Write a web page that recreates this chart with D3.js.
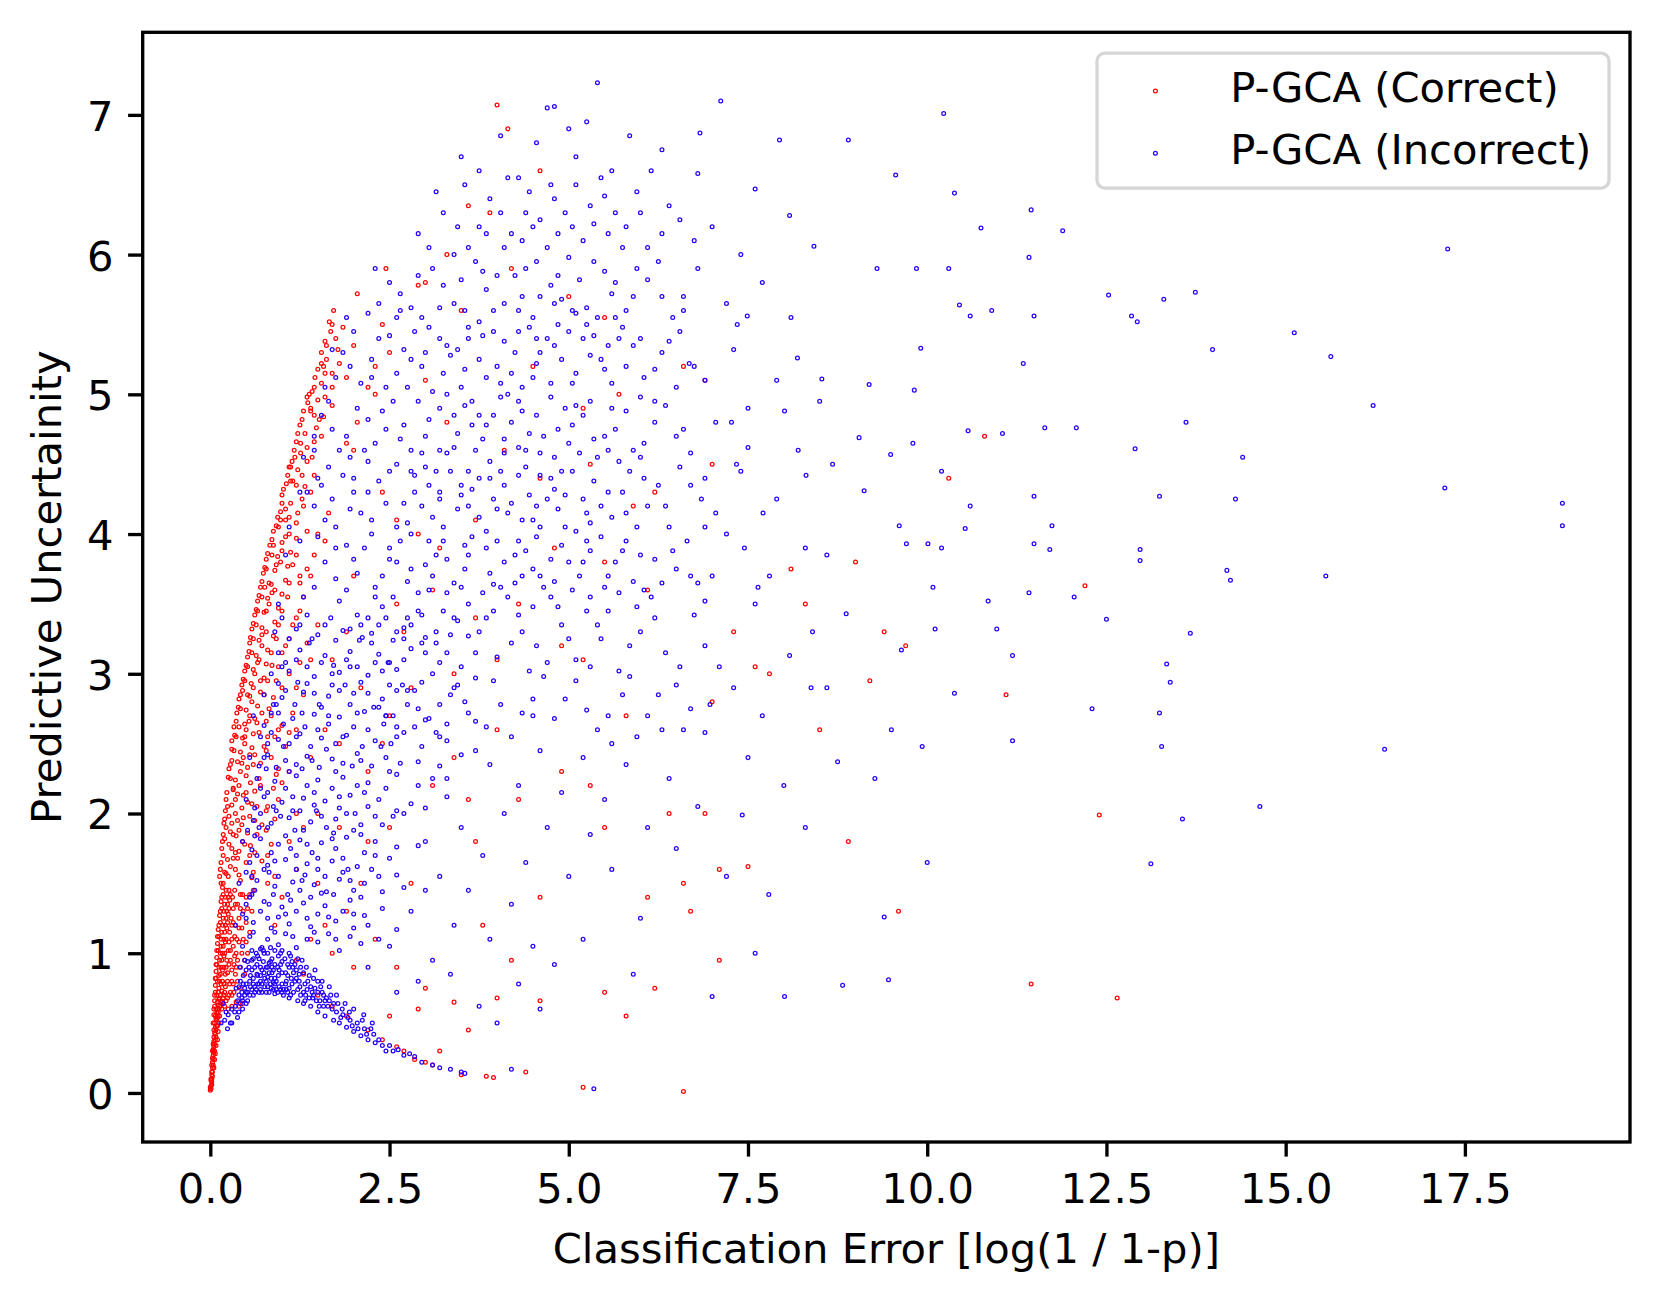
<!DOCTYPE html>
<html>
<head>
<meta charset="utf-8">
<script src="https://cdn.jsdelivr.net/npm/d3@7"></script>
<style>
  body { margin: 0; background: #fff; }
  text { font-family: "DejaVu Sans", sans-serif; fill: #000; }
</style>
</head>
<body>
<svg id="chart"></svg>
<script>
// ---- data ----
const xTicks = [0, 2.5, 5, 7.5, 10, 12.5, 15, 17.5];
const yTicks = [0, 1, 2, 3, 4, 5, 6, 7];
const seriesNames = ['P-GCA (Correct)', 'P-GCA (Incorrect)'];

// correct: thin spike near the origin
const correctSpike = [
  [0.0,0.02],[0.01,0.05],[0.01,0.1],[0.02,0.15],[0.02,0.2],[0.03,0.25],[0.03,0.3],[0.04,0.35],[0.05,0.4],[0.05,0.45],
  [0.06,0.5],[0.07,0.55],[0.08,0.6],[0.1,0.65],[0.09,0.7],[0.12,0.75],[0.1,0.8],[0.14,0.85],[0.12,0.9],[0.16,0.95],
  [0.14,1.0],[0.18,1.05],[0.15,1.1],[0.2,1.15],[0.17,1.2],[0.22,1.25],[0.19,1.3],[0.24,1.35],[0.21,1.4],[0.26,1.45],
  [0.04,0.2],[0.06,0.3],[0.08,0.4],[0.1,0.48],[0.13,0.55],[0.16,0.6],[0.2,0.62],[0.25,0.6],[0.3,0.62],[0.06,0.62],
  [0.07,0.72],[0.08,0.82],[0.09,0.92],[0.11,1.02],[0.12,1.12],[0.14,1.22],[0.16,1.32],[0.18,1.42],[0.2,0.72],[0.24,0.8],
  [0.18,0.68],[0.22,0.9],[0.28,0.95],[0.26,1.08],[0.3,1.2],[0.32,1.32],[0.28,0.72],[0.35,0.85],[0.36,1.0],[0.34,1.12],
  [0.4,1.25],[0.02,0.08],[0.03,0.12],[0.05,0.18],[0.06,0.24],[0.07,0.28],[0.08,0.34],[0.1,0.38],[0.11,0.44],[0.12,0.5],
  [0.01,0.03],[0.02,0.06],[0.03,0.18],[0.04,0.27],[0.05,0.33],[0.07,0.42],[0.09,0.52],[0.11,0.58],[0.13,0.68],[0.15,0.78],
  [0.17,0.88],[0.19,0.98],[0.21,1.08],[0.23,1.18],[0.25,1.28],[0.27,1.38],[0.22,0.66],[0.26,0.7],[0.3,0.8],[0.33,0.92],
  [0.0,0.04],[0.01,0.09],[0.02,0.13],[0.03,0.22],[0.04,0.31],[0.05,0.37],[0.06,0.43],[0.07,0.47],[0.08,0.53],[0.09,0.57],
  [0.1,0.6],[0.11,0.63],[0.12,0.67],[0.14,0.7],[0.16,0.73],[0.05,0.56],[0.06,0.66],[0.07,0.77],[0.08,0.87],[0.09,0.97],
  [0.1,1.07],[0.11,1.17],[0.13,1.27],[0.15,1.37],[0.17,1.47],[0.13,0.8],[0.15,0.9],[0.17,1.0],[0.19,1.1],[0.21,1.2],
  [0.23,1.3],[0.25,1.4],[0.19,0.78],[0.21,0.85],[0.23,0.95],[0.25,1.02],[0.27,1.15],[0.29,1.25],[0.31,1.4],[0.34,1.45],
  [0.24,0.68],[0.27,0.78],[0.3,0.88],[0.32,1.05],[0.35,1.2],[0.38,1.35],[0.42,1.42],[0.38,0.95],[0.4,1.08],[0.44,1.18],
  [0.46,1.3],[0.5,1.4],[0.33,0.72],[0.36,0.65],[0.4,0.62],[0.45,0.64],[0.42,0.75],[0.48,0.85],[0.52,1.0],[0.55,1.15],
  [0.58,1.3],[0.6,1.45],
  [0.02,0.1],[0.03,0.15],[0.04,0.24],[0.05,0.29],[0.06,0.35],[0.07,0.38],[0.08,0.45],[0.09,0.48],[0.1,0.54],[0.11,0.55],
  [0.12,0.6],[0.13,0.62],[0.15,0.65],[0.17,0.65],[0.19,0.7],[0.04,0.5],[0.05,0.6],[0.06,0.7],[0.07,0.82],[0.08,0.92],
  [0.09,1.02],[0.1,1.12],[0.12,1.2],[0.14,1.3],[0.16,1.4],[0.18,1.5],[0.11,0.72],[0.12,0.84],[0.13,0.95],[0.15,1.05],
  [0.16,1.15],[0.18,1.25],[0.2,1.35],[0.22,1.45],[0.17,0.8],[0.19,0.9],[0.2,1.0],[0.22,1.1],[0.24,1.22],[0.26,1.32],
  [0.28,1.42],[0.21,0.76],[0.24,0.86],[0.26,0.92],[0.28,1.02],[0.3,1.1],[0.32,1.22],[0.35,1.35],[0.3,0.7],[0.32,0.78],
  [0.34,0.98],[0.37,1.1],[0.4,1.18],[0.42,1.32],[0.45,1.42],[0.36,0.9],[0.38,0.8],[0.41,0.9],[0.44,1.0],[0.46,1.1],
  [0.5,1.22],[0.52,1.32],[0.55,1.42],[0.48,0.95],[0.5,1.08]
];

// correct: dense edge along the left of the cloud
const correctEdge = [
  [0.15,1.5],[0.25,1.55],[0.35,1.6],[0.5,1.65],[0.18,1.7],[0.3,1.75],[0.45,1.8],[0.65,1.85],[0.22,1.9],[0.38,1.95],
  [0.55,1.98],[0.8,1.7],[0.9,1.55],[0.28,1.62],[0.42,1.52],[0.6,1.58],[0.2,1.82],[0.72,1.92],
  [0.24,2.05],[0.35,2.1],[0.5,2.15],[0.7,2.2],[0.28,2.25],[0.42,2.3],[0.6,2.35],[0.85,2.4],[0.33,2.45],[0.48,2.5],
  [0.95,2.1],[0.65,2.05],[0.4,2.2],[0.55,2.42],[0.3,2.38],[1.1,2.3],[0.75,2.48],
  [0.36,2.55],[0.5,2.6],[0.65,2.65],[0.85,2.7],[0.42,2.75],[0.58,2.8],[0.75,2.85],[1.0,2.9],[0.48,2.95],[0.62,3.0],
  [1.2,2.6],[0.9,2.55],[0.55,2.7],[0.7,2.95],[1.3,2.85],[0.45,2.88],
  [0.52,3.05],[0.68,3.1],[0.85,3.15],[1.05,3.2],[0.6,3.25],[0.78,3.3],[0.95,3.35],[1.2,3.4],[0.66,3.45],[0.82,3.5],
  [1.4,3.1],[1.5,3.35],[0.72,3.2],[1.1,3.0],
  [0.72,3.55],[0.9,3.6],[1.1,3.65],[0.78,3.75],[0.98,3.8],[1.2,3.85],[0.88,3.92],[1.05,3.98],[1.4,3.7],[1.6,3.95],[0.82,3.65],
  [0.95,4.05],[1.1,4.12],[1.3,4.2],[1.0,4.28],[1.2,4.35],[1.45,4.42],[1.1,4.48],[1.65,4.15],[1.05,4.18],[1.35,4.02],
  [1.18,4.55],[1.35,4.62],[1.55,4.7],[1.25,4.78],[1.45,4.85],[1.7,4.92],[1.35,4.98],[1.9,4.65],[2.05,4.8],
  [1.45,5.05],[1.6,5.15],[1.8,5.22],[1.55,5.3],[1.75,5.4],[2.0,5.35],[1.72,5.6],[1.7,5.5],[2.3,5.2],[2.5,5.3],[2.2,5.05],
  [2.05,5.72],[2.45,5.9],[2.4,5.5],[2.9,5.78],[3.0,5.8],[3.6,6.35],[3.9,6.3],[4.0,7.07],[4.15,6.9],[3.3,6.0],[4.6,6.6],[5.5,5.55],
  [0.2,1.58],[0.32,1.68],[0.4,1.88],[0.26,1.98],[0.32,2.18],[0.46,2.4],[0.4,2.62],[0.52,2.85],[0.58,3.15],[0.64,3.35],
  [0.76,3.62],[0.86,3.85],[0.98,4.1],[1.12,4.38],[1.26,4.65],[1.4,4.9],[1.58,5.2],[0.62,1.72],[0.78,2.02],[0.92,2.28],
  [0.13,1.55],[0.22,1.57],[0.4,1.56],[0.58,1.54],[0.15,1.65],[0.24,1.67],[0.38,1.68],[0.55,1.7],[0.72,1.66],
  [0.16,1.75],[0.26,1.78],[0.4,1.73],[0.56,1.77],[0.85,1.78],[0.18,1.85],[0.28,1.87],[0.36,1.84],[0.52,1.86],[0.78,1.88],
  [0.2,1.96],[0.3,1.93],[0.46,1.97],[0.62,1.95],[0.9,1.96],[0.21,2.02],[0.3,2.06],[0.44,2.04],[0.58,2.07],[0.8,2.05],
  [0.23,2.15],[0.32,2.17],[0.46,2.13],[0.62,2.16],[0.88,2.18],[0.25,2.26],[0.35,2.24],[0.5,2.27],[0.68,2.25],[1.0,2.22],
  [0.28,2.35],[0.38,2.37],[0.52,2.33],[0.7,2.36],[0.95,2.32],[0.3,2.46],[0.42,2.44],[0.58,2.47],[0.78,2.45],[1.05,2.48],
  [0.34,2.56],[0.45,2.54],[0.6,2.57],[0.8,2.55],[1.1,2.58],[0.36,2.66],[0.48,2.64],[0.62,2.68],[0.78,2.66],[1.0,2.63],
  [0.39,2.76],[0.5,2.74],[0.66,2.77],[0.82,2.75],[1.15,2.72],[0.42,2.85],[0.55,2.84],[0.7,2.87],[0.88,2.83],[1.2,2.9],
  [0.46,2.96],[0.57,2.93],[0.75,2.97],[0.92,2.95],[0.5,3.06],[0.6,3.03],[0.78,3.07],[0.95,3.05],[1.25,3.08],
  [0.54,3.16],[0.64,3.13],[0.8,3.17],[1.0,3.15],[0.56,3.26],[0.68,3.24],[0.88,3.27],[1.1,3.25],[1.35,3.22],
  [0.6,3.36],[0.72,3.33],[0.9,3.37],[1.15,3.35],[0.64,3.46],[0.75,3.44],[0.95,3.47],[1.25,3.45],
  [0.68,3.56],[0.8,3.54],[1.0,3.57],[1.3,3.55],[0.72,3.66],[0.85,3.64],[1.05,3.67],[1.25,3.65],
  [0.76,3.76],[0.9,3.74],[1.08,3.77],[1.35,3.75],[0.8,3.86],[0.94,3.84],[1.12,3.87],[1.45,3.85],
  [0.86,3.96],[1.0,3.94],[1.2,3.97],[0.92,4.06],[1.05,4.1],[1.2,4.08],[0.98,4.16],[1.12,4.22],[1.28,4.25],
  [1.02,4.32],[1.15,4.38],[1.32,4.34],[1.08,4.42],[1.22,4.46],[1.4,4.3],[1.14,4.52],[1.26,4.58],[1.42,4.55],
  [1.2,4.66],[1.32,4.72],[1.48,4.76],[1.28,4.82],[1.4,4.88],[1.58,4.84],[1.36,4.94],[1.5,4.96],
  [1.42,5.02],[1.55,5.08],[1.7,5.05],[1.5,5.18],[1.62,5.25],[1.78,5.32],[1.6,5.38],[1.68,5.45],[1.85,5.48],[1.9,5.12],
  [0.14,1.6],[0.17,1.8],[0.19,1.93],[0.22,2.1],[0.26,2.32],[0.3,2.52],[0.33,2.62],[0.37,2.72],[0.4,2.82],[0.44,2.92],
  [0.48,3.02],[0.52,3.12],[0.55,3.22],[0.58,3.32],[0.62,3.42],[0.66,3.52],[0.7,3.62],[0.74,3.72],[0.78,3.82],[0.83,3.92],
  [0.88,4.02],[0.94,4.12],[1.0,4.22],[1.06,4.36],[1.12,4.48],[1.17,4.6],[1.22,4.72],[1.3,4.88],[1.38,5.0],[1.46,5.12],
  [1.55,5.22],[1.62,5.35],[1.66,5.52],
  [0.35,1.72],[0.48,1.78],[0.32,1.85],[0.44,1.92],[0.35,2.0],[0.52,2.08],[0.38,2.14],[0.56,2.22],[0.44,2.36],[0.62,2.42],
  [0.48,2.55],[0.68,2.58],[0.54,2.66],[0.72,2.72],[0.6,2.9],[0.8,2.95],[0.66,3.08],[0.86,3.06],[0.72,3.28],[0.92,3.25],
  [0.78,3.45],[1.0,3.45],[0.86,3.58],[1.08,3.55],[0.92,3.78],[1.15,3.78],[1.0,3.88],[1.1,4.0],[1.22,4.15],[1.28,4.42],
  [1.35,4.52],[1.45,4.66],[1.52,4.82],[1.6,4.98],[1.7,5.15]
];

// correct: scattered inside and beyond the main cloud
const correctScatter = [
  [1.5,2.0],[1.8,2.5],[2.2,1.8],[2.5,2.7],[2.8,1.5],[3.1,2.2],[3.4,3.0],[3.7,1.8],[4.0,2.6],[4.3,3.5],
  [4.6,1.4],[4.9,2.3],[5.2,3.1],[5.5,1.9],[5.8,2.7],[6.1,3.6],[6.4,2.0],[6.7,1.3],[7.0,2.8],[2.0,3.7],
  [2.4,4.3],[2.9,4.0],[3.3,4.8],[3.7,3.4],[4.1,4.6],[4.5,5.2],[4.8,3.9],[5.3,4.5],[5.7,5.0],[6.2,4.3],
  [6.6,5.2],[7.3,3.3],[7.8,3.0],[8.1,3.75],[8.5,2.6],[9.2,2.95],[9.4,3.3],[9.0,3.8],[9.7,3.2],[1.9,1.3],
  [2.3,1.1],[2.6,0.9],[3.0,0.75],[3.4,0.65],[3.8,1.2],[4.2,0.95],[5.2,0.04],[6.6,0.01],[5.5,0.72],[5.8,0.55],
  [6.2,0.75],[6.1,1.4],[6.6,1.5],[7.1,0.95],[8.9,1.8],[9.6,1.3],[10.3,4.4],[10.8,4.7],[11.1,2.85],[12.2,3.63],
  [12.4,1.99],[11.45,0.78],[12.65,0.68],[3.0,0.22],[3.1,0.2],[2.85,0.24],[2.7,0.3],[3.5,0.13],[3.85,0.12],[3.95,0.11],
  [2.2,0.45],[2.4,0.38],[1.9,0.55],[1.7,0.62],[1.5,0.7],[1.3,0.85],[2.6,0.33],[2.5,0.55],[2.9,0.6],[7.6,3.05],
  [7.0,4.5],[6.9,5.1],[5.9,4.2],[8.3,3.5],[7.1,1.6],[7.5,1.62],[6.9,2.0],[5.3,2.2],[3.6,2.1],[2.1,2.9],
  [3.2,0.3],[3.6,0.45],[4.0,0.68],[4.6,0.66],[4.4,0.15],[1.6,1.2],[1.2,1.6],[1.4,2.4],[1.7,3.1],[2.6,3.5],
  [1.0,1.4],[1.3,1.9],[1.6,2.6],[1.9,3.3],[2.2,2.3],[2.5,1.9],[2.8,2.9],[3.1,3.6],[3.4,2.4],[3.7,4.1],
  [4.0,3.1],[4.3,2.1],[4.6,4.4],[4.9,3.2],[5.2,4.9],[5.5,3.8],[2.0,4.6],[2.3,5.0],[2.6,4.1],[3.0,5.1],
  [3.5,5.6],[4.2,5.9],[5.0,5.7],[1.2,2.0],[1.5,1.5],[1.8,1.9],[2.1,1.5],[2.4,2.5],[2.7,3.3],[3.2,3.9],
  [1.4,1.1],[1.7,1.0],[2.0,0.9],[1.2,0.95],[0.9,1.2],[0.8,1.5],[1.1,1.8],[0.95,2.6],[1.25,3.7],[1.5,4.0]
];

// incorrect: band along the lower curve
const incorrectBand = [
  [0.35,0.62],[0.4,0.7],[0.42,0.8],[0.45,0.66],[0.48,0.75],[0.5,0.88],[0.52,0.72],[0.55,0.8],[0.58,0.95],[0.6,0.7],
  [0.62,0.76],[0.65,0.85],[0.68,0.72],[0.7,0.9],[0.72,0.78],[0.75,1.0],[0.78,0.72],[0.8,0.83],[0.82,0.93],[0.85,0.75],
  [0.88,0.88],[0.9,0.71],[0.92,0.8],[0.95,0.98],[0.98,0.74],[1.0,0.86],[1.02,0.7],[1.05,0.78],[1.08,0.92],[1.1,0.68],
  [1.13,0.82],[1.16,0.72],[1.2,0.88],[1.22,0.66],[1.25,0.76],[1.28,0.95],[1.3,0.64],[1.33,0.7],[1.36,0.8],[1.4,0.62],
  [1.43,0.68],[1.46,0.75],[1.5,0.58],[1.53,0.66],[1.56,0.72],[1.6,0.55],[1.64,0.62],[1.68,0.7],[1.72,0.52],[1.76,0.58],
  [1.8,0.5],[1.85,0.56],[1.9,0.47],[1.95,0.52],[2.0,0.44],[2.05,0.5],[2.1,0.41],[2.15,0.46],[2.2,0.38],[2.3,0.36],
  [2.4,0.34],[2.45,0.3],[2.55,0.3],[2.7,0.27],[2.85,0.26],[2.95,0.22],[3.1,0.2],[3.2,0.18],[3.35,0.17],[3.5,0.15],
  [3.55,0.14],[4.2,0.17],[5.35,0.03],
  [0.6,0.82],[0.7,0.8],[0.8,0.76],[0.9,0.92],[1.0,0.78],[1.1,0.75],[0.65,0.92],[0.75,0.86],[0.85,0.82],[0.95,0.84],
  [1.05,0.86],[1.15,0.9],[0.55,0.7],[0.5,0.64],[0.45,0.6],[0.4,0.58],[0.38,0.54],[0.3,0.5],[0.25,0.56],[0.2,0.52],
  [0.18,0.64],[0.15,0.5],[0.68,0.78],[0.78,0.9],[0.88,0.79],[0.98,0.92],[1.08,0.72],[1.18,0.8],[1.26,0.7],[1.35,0.74],
  [0.62,0.72],[0.72,0.72],[0.82,0.72],[0.92,0.74],[1.02,0.74],[1.12,0.7],[0.58,0.88],[0.66,0.98],[0.86,0.96],[1.04,0.96],
  [1.24,0.85],[1.44,0.82],[1.62,0.68],[1.78,0.64],[1.94,0.58],[2.12,0.52],[2.28,0.42],[0.48,0.95],[0.42,0.9],[0.36,0.75],
  [0.38,0.66],[0.44,0.72],[0.5,0.78],[0.56,0.84],[0.62,0.9],[0.68,0.96],[0.74,1.02],[0.46,0.84],[0.52,0.94],[0.58,1.02],
  [0.64,0.74],[0.7,0.74],[0.76,0.76],[0.84,0.78],[0.9,0.82],[0.96,0.76],[1.06,0.8],[1.14,0.78],[1.22,0.74],[1.3,0.72],
  [1.38,0.68],[1.48,0.66],[1.58,0.62],[0.66,0.84],[0.72,0.88],[0.8,0.9],[0.86,0.86],[0.94,0.9],[1.0,0.94],[1.08,0.84],
  [1.16,0.86],[1.24,0.8],[1.32,0.78],[1.4,0.76],[1.5,0.72],[1.6,0.66],[1.7,0.6],[1.82,0.54],[1.98,0.48],[2.18,0.42],
  [2.35,0.38],[2.5,0.34],[2.62,0.31],[2.78,0.28],[0.8,1.0],[0.9,1.02],[1.0,1.02],[1.12,0.98],[1.22,0.96],[1.34,0.9],
  [1.46,0.88],[1.56,0.8],[1.66,0.76],[1.76,0.7],[1.88,0.64],[2.0,0.6],[2.14,0.56],[2.26,0.5],[0.74,0.94],[0.84,0.94],
  [0.96,0.88],[1.18,0.92],[1.3,0.86],[1.42,0.72],[1.54,0.76],[0.56,0.76],[0.6,0.78],[0.48,0.7],[0.42,0.64],[0.34,0.58],
  [0.28,0.5],[0.24,0.46],[0.3,0.6],[0.22,0.58],
  [0.4,0.76],[0.46,0.78],[0.54,0.9],[0.6,0.96],[0.64,1.0],[0.7,0.84],[0.76,0.82],[0.82,0.86],[0.88,0.74],[0.94,0.72],
  [1.0,0.72],[1.06,0.74],[1.1,0.9],[1.14,0.94],[1.2,0.82],[1.26,0.9],[1.32,0.66],[1.38,0.84],[1.44,0.7],[1.5,0.8],
  [1.52,0.62],[1.58,0.7],[1.66,0.66],[1.72,0.64],[1.84,0.6],[1.92,0.54],[2.06,0.46],[2.24,0.46],[0.72,1.04],[0.84,1.04],
  [0.98,1.0],[1.1,1.0],[0.86,0.9],[0.78,0.8],[0.66,0.78],[0.52,0.66],[0.44,0.68],[0.5,0.72],[0.58,0.74],[0.9,0.78]
];

// incorrect: lower-left part of the cloud
const incorrectLeft = [
  [0.45,1.05],[0.7,1.03],[0.95,1.06],[1.2,1.04],[1.5,1.08],[1.8,1.02],[2.1,1.07],
  [0.35,1.2],[0.6,1.22],[0.85,1.18],[1.1,1.21],[1.4,1.19],[1.75,1.23],[2.2,1.2],[2.6,1.17],
  [0.5,1.35],[0.75,1.37],[1.0,1.33],[1.3,1.36],[1.6,1.34],[1.95,1.38],[2.4,1.32],
  [0.4,1.5],[0.65,1.52],[0.9,1.48],[1.15,1.51],[1.45,1.49],[1.8,1.53],[2.15,1.5],[2.7,1.47],
  [0.55,1.65],[0.8,1.63],[1.05,1.67],[1.35,1.64],[1.7,1.66],[2.05,1.62],[2.5,1.68],
  [0.45,1.8],[0.7,1.82],[0.95,1.78],[1.25,1.81],[1.55,1.79],[1.9,1.83],[2.3,1.8],[2.9,1.77],
  [0.6,1.95],[0.85,1.93],[1.1,1.97],[1.4,1.94],[1.75,1.96],[2.1,1.92],[2.55,1.98],
  [0.5,2.1],[0.75,2.12],[1.0,2.08],[1.3,2.11],[1.6,2.09],[1.95,2.13],[2.35,2.1],[2.8,2.07],[3.3,2.12],
  [0.65,2.25],[0.9,2.23],[1.2,2.27],[1.5,2.24],[1.85,2.26],[2.2,2.22],[2.6,2.28],[3.1,2.25],
  [0.55,2.4],[0.8,2.42],[1.05,2.38],[1.35,2.41],[1.7,2.39],[2.05,2.43],[2.45,2.4],[2.9,2.37],[3.5,2.42],
  [0.7,2.55],[0.95,2.53],[1.25,2.57],[1.55,2.54],[1.9,2.56],[2.3,2.52],[2.7,2.58],[3.2,2.55],
  [0.6,2.7],[0.85,2.72],[1.15,2.68],[1.45,2.71],[1.8,2.69],[2.15,2.73],[2.55,2.7],[3.0,2.67],[3.6,2.72],
  [0.75,2.85],[1.0,2.83],[1.3,2.87],[1.65,2.84],[2.0,2.86],[2.4,2.82],[2.85,2.88],[3.35,2.85],
  [0.85,3.0],[1.1,3.02],[1.45,2.98],[1.8,3.01],[2.2,2.99],[2.6,3.03],[3.1,3.0],[3.7,2.97],
  [0.95,3.15],[1.25,3.17],[1.6,3.13],[1.95,3.16],[2.35,3.14],[2.8,3.18],[3.3,3.15],
  [0.9,3.3],[1.2,3.32],[1.5,3.28],[1.85,3.31],[2.25,3.29],[2.7,3.33],[3.15,3.3],[3.6,3.27],
  [0.58,1.42],[0.82,1.58],[1.08,1.42],[1.32,1.56],[1.62,1.44],[1.92,1.6],[0.68,1.9],[0.92,2.02],[1.18,1.88],[1.48,2.02],
  [1.72,1.86],[2.02,2.0],[0.78,2.32],[1.02,2.48],[1.28,2.32],[1.62,2.46],[1.98,2.34],[2.38,2.48],[0.92,2.78],[1.22,2.94],
  [1.52,2.78],[1.88,2.92],[2.28,2.76],[2.68,2.92],[1.05,3.08],[1.38,3.22],[1.72,3.06],[2.08,3.24],[2.48,3.08],[2.95,3.22],
  [0.55,1.12],[0.8,1.1],[1.05,1.14],[1.35,1.1],[1.65,1.14],[1.95,1.12],[2.35,1.1],
  [0.45,1.28],[0.7,1.3],[0.95,1.26],[1.2,1.3],[1.5,1.28],[1.85,1.3],[2.15,1.27],
  [0.62,1.45],[0.88,1.42],[1.25,1.45],[1.55,1.43],[2.0,1.45],[2.4,1.44],
  [0.5,1.58],[0.75,1.6],[1.2,1.6],[1.5,1.6],[1.85,1.58],[2.25,1.6],[2.6,1.56],
  [0.58,1.74],[0.85,1.72],[1.12,1.75],[1.42,1.72],[1.75,1.75],[2.15,1.72],[2.6,1.76],
  [0.52,1.88],[0.8,1.9],[1.3,1.88],[1.62,1.9],[2.0,1.88],[2.4,1.92],
  [0.62,2.04],[0.88,2.05],[1.15,2.02],[1.45,2.06],[1.8,2.04],[2.2,2.05],[2.6,2.02],[3.0,2.04],
  [0.7,2.18],[1.05,2.18],[1.35,2.2],[1.7,2.18],[2.05,2.2],[2.45,2.18],[2.9,2.2],
  [0.68,2.34],[0.92,2.33],[1.2,2.35],[1.52,2.33],[1.85,2.36],[2.25,2.34],[2.65,2.36],[3.2,2.34],
  [0.8,2.5],[1.1,2.5],[1.4,2.48],[1.75,2.5],[2.12,2.48],[2.52,2.5],[2.95,2.48],
  [0.75,2.63],[1.02,2.64],[1.32,2.62],[1.65,2.64],[2.0,2.62],[2.42,2.64],[2.85,2.62],[3.3,2.64],
  [0.88,2.78],[1.18,2.78],[1.55,2.76],[1.95,2.78],[2.35,2.76],[2.75,2.78],[3.2,2.78],
  [0.95,2.93],[1.35,2.93],[1.7,2.92],[2.1,2.94],[2.5,2.92],[2.95,2.94],[3.45,2.92],
  [1.2,3.1],[1.55,3.08],[1.9,3.1],[2.3,3.08],[2.7,3.1],[3.2,3.08],
  [1.1,3.25],[1.42,3.25],[1.75,3.24],[2.12,3.26],[2.55,3.24],[3.0,3.26],
  [1.0,3.4],[1.35,3.42],[1.68,3.4],[2.05,3.42],[2.45,3.4],[2.95,3.42],[3.4,3.4],
  [0.6,1.15],[0.9,1.15],[1.15,1.12],[1.45,1.15],[1.75,1.1],[2.0,1.18],
  [0.5,1.25],[0.8,1.25],[1.05,1.28],[1.35,1.25],[1.65,1.26],[2.0,1.28],
  [0.55,1.4],[0.82,1.35],[1.12,1.38],[1.4,1.4],[1.72,1.42],[2.1,1.4],
  [0.58,1.55],[0.95,1.55],[1.28,1.52],[1.6,1.55],[1.95,1.52],[2.35,1.55],
  [0.65,1.7],[0.9,1.66],[1.2,1.7],[1.5,1.68],[1.85,1.68],[2.3,1.7],
  [0.62,1.84],[1.05,1.84],[1.35,1.78],[1.7,1.82],[2.1,1.85],
  [0.7,2.0],[0.98,1.98],[1.25,2.02],[1.55,1.98],[1.9,2.0],[2.3,1.98],
  [0.8,2.15],[1.15,2.12],[1.45,2.15],[1.8,2.12],[2.15,2.15],
  [0.75,2.4],[1.1,2.3],[1.42,2.38],[1.75,2.3],[2.1,2.38],[2.5,2.3],
  [0.85,2.58],[1.2,2.55],[1.5,2.6],[1.85,2.55],[2.2,2.6],[2.6,2.55],
  [0.95,2.72],[1.28,2.72],[1.65,2.7],[2.05,2.72],[2.45,2.7],
  [1.05,2.88],[1.45,2.86],[1.8,2.88],[2.2,2.86],[2.6,2.88],
  [1.0,3.05],[1.35,3.05],[1.7,3.0],[2.05,3.05],[2.4,3.02],
  [1.25,3.35],[1.6,3.35],[1.95,3.32],[2.35,3.35],[2.8,3.35]
];

// incorrect: central cloud
const incorrectCore = [
  [2.6,2.62],[2.9,2.75],[3.15,2.58],[3.4,2.9],[3.7,2.66],[3.95,2.95],[4.2,2.55],[4.5,2.82],[4.8,2.68],[5.1,2.95],
  [5.4,2.6],[5.75,2.85],[6.1,2.7],[6.5,2.92],[6.9,2.58],[3.3,2.52],[4.05,2.78],[4.65,2.98],[5.25,2.74],[5.95,2.55],
  [1.95,3.05],[2.25,3.22],[2.5,3.08],[2.75,3.4],[3.0,3.15],[3.25,3.45],[3.5,3.05],[3.75,3.3],[4.0,3.12],[4.3,3.42],
  [4.55,3.2],[4.85,3.48],[5.1,3.1],[5.4,3.35],[5.7,3.02],[6.0,3.3],[6.35,3.15],[6.75,3.42],[7.1,3.05],[2.4,3.48],
  [3.6,3.5],[4.45,3.02],[5.25,3.45],[5.95,3.48],
  [1.3,3.55],[1.6,3.8],[1.9,3.6],[2.15,3.9],[2.4,3.7],[2.65,3.95],[2.9,3.58],[3.15,3.85],[3.4,3.65],[3.65,3.98],
  [3.9,3.72],[4.15,3.55],[4.4,3.88],[4.65,3.62],[4.9,3.92],[5.15,3.7],[5.45,3.98],[5.7,3.58],[6.0,3.85],[6.3,3.65],
  [6.65,3.95],[7.0,3.7],[7.45,3.9],[3.0,3.78],[3.8,3.58],[4.55,3.98],[5.3,3.55],[5.9,3.66],[2.55,3.55],[6.9,3.52],
  [1.1,4.05],[1.35,4.3],[1.6,4.1],[1.85,4.42],[2.1,4.15],[2.35,4.38],[2.6,4.05],[2.85,4.3],[3.1,4.12],[3.35,4.45],
  [3.6,4.2],[3.85,4.02],[4.1,4.35],[4.35,4.1],[4.6,4.42],[4.85,4.18],[5.1,4.02],[5.35,4.38],[5.6,4.12],[5.85,4.45],
  [6.1,4.2],[6.4,4.05],[6.7,4.35],[7.05,4.15],[7.4,4.45],[7.9,4.25],[3.0,4.48],[3.75,4.4],[4.45,4.28],[5.2,4.25],
  [5.95,4.05],[2.7,4.22],[4.0,4.18],[6.55,4.48],
  [1.3,4.55],[1.55,4.85],[1.8,4.6],[2.05,4.9],[2.3,4.65],[2.55,4.95],[2.8,4.6],[3.05,4.82],[3.3,4.58],[3.55,4.92],
  [3.8,4.68],[4.05,4.98],[4.3,4.62],[4.55,4.85],[4.8,4.55],[5.05,4.78],[5.3,4.95],[5.55,4.6],[5.8,4.88],[6.05,4.65],
  [6.35,4.92],[6.7,4.58],[7.05,4.8],[7.5,4.62],[3.9,4.52],[4.65,4.7],[5.15,4.58],[2.9,4.95],[4.2,4.8],[5.7,4.52],
  [4.95,4.9],[3.45,4.72],
  [1.6,5.05],[1.85,5.3],[2.1,5.08],[2.35,5.4],[2.6,5.15],[2.85,5.45],[3.1,5.02],[3.35,5.28],[3.6,5.48],[3.85,5.12],
  [4.1,5.38],[4.35,5.05],[4.6,5.3],[4.85,5.5],[5.1,5.15],[5.35,5.42],[5.6,5.08],[5.9,5.35],[6.2,5.18],[6.55,5.45],
  [6.9,5.1],[7.3,5.32],[4.0,5.2],[4.75,5.08],[3.25,5.15],[5.75,5.48],[4.45,5.48],
  [2.2,5.58],[2.5,5.8],[2.8,5.62],[3.1,5.9],[3.4,5.65],[3.7,5.95],[3.95,5.6],[4.25,5.85],[4.5,5.55],[4.75,5.78],
  [5.0,5.98],[5.25,5.62],[5.5,5.88],[5.8,5.6],[6.1,5.82],[6.45,5.55],[6.8,5.9],[7.2,5.65],[4.6,5.7],[3.85,5.75],[5.4,5.55],
  [2.9,6.15],[3.25,6.3],[3.6,6.05],[3.9,6.4],[4.2,6.15],[4.45,6.45],[4.7,6.05],[4.95,6.3],[5.2,6.1],[5.5,6.42],
  [5.8,6.2],[6.1,6.05],[6.4,6.35],[6.75,6.1],[4.6,6.25],[5.35,6.22],
  [3.5,6.7],[3.75,6.6],[4.05,6.85],[4.3,6.55],[4.55,6.8],[4.7,7.05],[4.8,7.06],[5.1,6.7],[5.25,6.95],[5.4,7.23],
  [5.6,6.6],[5.85,6.85],[6.3,6.75],[6.8,6.58],[5.0,6.9],
  [2.7,3.25],[3.05,3.6],[3.35,3.28],[3.55,3.75],[3.85,3.4],[4.1,3.8],[4.35,3.3],[4.6,3.7],[4.9,3.35],[5.2,3.8],
  [5.45,3.25],[2.95,4.2],[3.2,4.6],[3.5,4.35],[3.75,4.85],[4.05,4.45],[4.3,4.95],[4.5,4.1],[4.75,4.4],[5.0,4.65],
  [5.25,4.15],[5.5,4.7],[2.75,5.05],[3.0,5.3],[3.5,5.05],[3.95,5.45],[4.2,5.15],[4.55,5.4],[4.9,5.25],[5.2,5.4],
  [5.45,5.25],[2.45,4.75],[2.2,3.4],[2.0,4.3],[1.75,3.9],[1.5,4.4],[2.6,3.8],[3.25,3.95],[4.25,3.65],[4.95,4.05],
  [5.65,3.8],[6.2,4.8],[6.0,5.4],[5.65,5.8],[4.35,5.7],[3.6,5.4],[2.65,5.6],[4.85,6.15],[4.1,6.05],[5.1,6.5],
  [4.4,6.3],[3.45,6.2],[5.55,6.15],[6.15,6.6],[1.7,5.32],[1.45,4.7],[1.25,4.3],[1.05,3.85],[0.95,3.5],[1.9,5.55],
  [3.7,4.6],[4.4,4.6],[4.15,5.0],[3.3,5.0],[3.95,4.25],[4.7,4.25],[4.8,5.65],[3.2,4.3],[2.8,4.45],[5.05,5.6],
  [1.45,3.62],[1.75,3.68],[2.05,3.72],[2.3,3.62],[2.75,3.66],[3.1,3.7],[3.5,3.62],[3.95,3.64],[4.35,3.7],[4.8,3.66],
  [5.05,3.6],[5.55,3.7],[6.15,3.55],[6.5,3.75],[1.25,3.95],[1.5,3.98],[1.9,3.92],[2.25,4.0],[2.5,3.9],[2.8,4.0],
  [3.3,3.82],[3.55,3.92],[4.0,3.95],[4.25,3.85],[4.75,3.82],[5.3,3.88],[5.8,3.95],[6.2,3.82],
  [1.45,4.2],[1.7,4.25],[1.95,4.18],[2.2,4.3],[2.45,4.22],[3.2,4.25],[3.45,4.18],[3.65,4.32],[4.2,4.22],[4.55,4.2],
  [4.95,4.28],[5.45,4.2],[5.75,4.3],[6.25,4.35],[6.85,4.25],
  [1.65,4.48],[1.95,4.55],[2.2,4.52],[2.6,4.5],[2.85,4.42],[3.15,4.45],[3.6,4.45],[4.1,4.58],[4.4,4.48],[4.9,4.45],
  [5.4,4.55],[6.0,4.55],[6.5,4.7],
  [1.7,4.75],[2.2,4.82],[2.7,4.78],[3.0,4.7],[3.4,4.85],[3.65,4.78],[3.95,4.85],[4.45,4.72],[4.75,4.98],[5.2,4.85],
  [5.65,4.75],[6.0,4.98],[6.5,5.05],
  [1.95,5.2],[2.25,5.25],[2.45,5.05],[2.7,5.32],[2.95,5.2],[3.2,5.4],[3.45,5.32],[3.75,5.25],[4.25,5.3],[4.5,5.12],
  [4.7,5.4],[5.0,5.45],[5.3,5.28],[5.55,5.35],[5.8,5.2],[6.3,5.3],
  [2.35,5.65],[2.65,5.72],[2.95,5.55],[3.25,5.78],[3.55,5.6],[3.8,5.88],[4.1,5.65],[4.4,5.9],[4.9,5.68],[5.15,5.82],
  [5.6,5.72],[5.95,5.9],[6.3,5.7],
  [3.05,6.05],[3.4,6.0],[3.75,6.2],[4.05,6.3],[4.35,6.1],[4.8,6.4],[5.3,6.35],[5.65,6.3],[5.95,6.45],[6.55,6.25],
  [2.45,2.7],[2.75,2.88],[3.05,2.68],[3.55,2.8],[3.85,2.62],[4.35,2.72],[4.95,2.82],[5.55,2.7],[5.85,2.98],[6.25,2.85],[6.7,2.75],
  [2.1,3.35],[2.6,3.3],[2.9,3.45],[3.15,3.22],[3.45,3.38],[3.7,3.15],[3.95,3.45],[4.2,3.22],[4.5,3.48],[4.7,3.08],
  [5.0,3.25],[5.3,3.05],[5.55,3.45],[5.85,3.2],[6.2,3.4],[6.55,3.05],
  [1.8,3.52],[2.0,3.82],[2.3,3.55],[2.5,3.82],[2.8,3.75],[3.05,3.95],[3.3,3.58],[3.6,3.85],[3.85,3.9],[4.05,3.62],
  [4.3,3.95],[4.5,3.75],[4.75,3.55],[5.0,3.8],[5.25,3.95],[5.5,3.62],[5.75,3.88],[6.05,3.6],[6.45,3.88],[6.8,3.65],
  [1.55,4.35],[1.75,4.05],[2.0,4.4],[2.25,4.1],[2.5,4.45],[2.75,4.08],[3.05,4.35],[3.25,4.05],[3.5,4.28],[3.75,4.12],
  [3.9,4.4],[4.15,4.15],[4.3,4.42],[4.6,4.05],[4.8,4.32],[5.05,4.45],[5.3,4.08],[5.55,4.3],[5.8,4.15],[6.05,4.4],
  [6.35,4.2],[6.9,4.05],
  [1.45,4.6],[1.65,4.95],[1.9,4.7],[2.15,4.6],[2.4,4.88],[2.65,4.68],[2.95,4.58],[3.2,4.9],[3.4,4.62],[3.65,4.95],
  [3.85,4.78],[4.1,4.68],[4.35,4.88],[4.6,4.58],[4.85,4.75],[5.1,4.92],[5.35,4.68],[5.6,4.9],[5.9,4.6],[6.2,4.95],[6.6,4.75],
  [1.75,5.12],[2.0,5.45],[2.25,5.12],[2.5,5.42],[2.8,5.25],[3.05,5.48],[3.3,5.35],[3.55,5.18],[3.8,5.42],[4.05,5.08],
  [4.3,5.45],[4.55,5.22],[4.8,5.35],[5.05,5.08],[5.25,5.5],[5.5,5.18],[5.7,5.4],[6.05,5.12],[6.4,5.38],[6.75,5.2],
  [2.3,5.9],[2.6,5.55],[2.9,5.85],[3.2,5.62],[3.5,5.82],[3.75,5.52],[4.0,5.85],[4.3,5.6],[4.55,5.95],[4.85,5.85],
  [5.1,5.58],[5.35,5.95],[5.65,5.55],[5.9,5.7],[6.25,5.95],[6.6,5.7],
  [3.15,6.45],[3.55,6.5],[3.85,6.15],[4.15,6.55],[4.5,6.2],[4.75,6.5],[5.05,6.2],[5.45,6.55],[5.75,6.05],[6.0,6.3],[6.3,6.15]
];

// incorrect: lower-right part of the cloud
const incorrectLow = [
  [2.5,1.05],[2.8,1.3],[3.1,0.95],[3.4,1.2],[3.2,1.55],[3.6,1.45],[3.9,1.1],[4.2,1.35],[4.5,1.05],[3.0,1.8],
  [3.5,1.9],[3.8,1.7],[4.1,2.0],[4.4,1.65],[4.7,1.9],[5.0,1.55],[5.3,1.85],[2.7,2.0],[3.3,2.25],[3.9,2.35],
  [4.3,2.2],[4.6,2.45],[4.9,2.15],[5.2,2.4],[5.5,2.1],[5.8,2.35],[6.1,1.9],[6.4,2.25],[5.6,1.6],[6.0,1.25],
  [5.2,1.1],[4.8,0.92],[4.3,0.78],[3.75,0.62],[6.5,1.75],[6.8,2.05],[7.2,1.55],[5.9,0.85],[7.5,2.4],[2.9,0.8],
  [3.35,0.85],[4.0,0.5],[4.6,0.6],[2.2,0.9],[2.6,0.72],[3.0,1.45],[3.7,2.45],[4.5,2.7],[5.6,2.5],[6.3,2.6],
  [6.6,2.6],[6.9,3.2],[7.3,2.9],[7.6,3.5],[7.2,4.0],[7.8,3.7],[7.5,4.9],[7.9,5.1],[7.7,5.8],[8.2,4.6],
  [8.4,3.3],[6.6,5.6],[7.0,6.2],[7.4,6.0],[6.9,4.4],[7.7,2.7],[8.0,2.2],[8.3,3.9],[8.5,4.95],[6.7,3.7],
  [7.35,5.5],[8.1,5.55],[7.6,1.0],[8.3,1.9],[8.6,2.9],[9.8,4.65],[10.2,4.45],[9.3,5.9],[9.85,5.9],[10.6,4.2],
  [9.5,2.6],[10.2,3.9],[10.0,1.65]
];

// incorrect: sparse tail to the right
const incorrectTail = [
  [18.86,4.22],[18.86,4.06],[17.26,6.04],[17.22,4.33],[16.38,2.46],[15.63,5.27],[15.56,3.70],[16.22,4.92],[15.12,5.44],[14.64,2.05],
  [14.40,4.55],[14.30,4.25],[14.18,3.74],[14.23,3.67],[13.98,5.32],[13.74,5.73],[13.67,3.29],[13.61,4.80],[13.56,1.96],[13.34,3.07],
  [13.39,2.94],[13.30,5.68],[13.24,4.27],[13.24,2.72],[13.27,2.48],[13.12,1.64],[12.97,3.81],[12.97,3.89],[12.90,4.61],[12.85,5.56],
  [12.93,5.52],[12.53,5.71],[12.50,3.39],[12.30,2.75],[12.05,3.55],[12.08,4.76],[11.89,6.17],[11.74,4.06],[11.71,3.89],[11.64,4.76],
  [11.49,5.56],[11.45,6.32],[11.42,5.98],[11.49,4.27],[11.49,3.93],[11.42,3.58],[11.34,5.22],[11.19,2.52],[11.19,3.13],[11.05,4.72],
  [10.97,3.32],[10.90,5.60],[10.85,3.52],[10.75,6.19],[10.60,5.56],[10.57,4.74],[10.53,4.04],[10.45,5.64],[10.38,6.44],[10.23,7.01],
  [10.30,5.90],[10.38,2.86],[10.08,3.62],[10.11,3.32],[10.01,3.93],[9.93,2.48],[9.91,5.33],[9.82,5.03],[9.71,3.93],[9.64,3.17],
  [9.61,4.06],[9.56,6.57],[9.49,4.57],[9.46,0.81],[9.40,1.26],[9.27,2.25],[9.19,5.07],[9.12,4.31],[9.05,4.69],[8.90,6.82],
  [8.87,3.43],[8.82,0.77],[8.75,2.37],[8.68,4.50],[8.60,3.85],[8.53,5.11],[8.42,6.06],[8.38,2.90],[8.31,4.42],[8.19,5.26],
  [8.08,3.13],[8.01,4.88],[7.94,6.82],[8.08,6.28],[8.01,0.69],[7.79,1.42],[7.71,4.15],[7.64,3.62],[7.60,6.47],[7.49,5.56],
  [7.42,1.99],[7.34,4.50],[7.27,4.80],[7.12,7.10],[7.00,0.69],[6.97,2.78],[6.83,6.87],[6.68,5.22]
];

const correctPts = correctSpike.concat(correctEdge, correctScatter);
const incorrectPts = incorrectBand.concat(incorrectLeft, incorrectCore, incorrectLow, incorrectTail);

// ---- layout ----
const W = 1663, H = 1298;
const fs = 41.67;            // 10pt at 300 dpi
const lw = 3.33;             // 0.8pt
const tickLen = 14.6;
const plot = { left: 142.7, top: 32.3, right: 1630, bottom: 1142 };
const red = '#ff0000', blue = '#2200ff';
const markR = 1.9, markW = 1.25;

const svg = d3.select('#chart').attr('width', W).attr('height', H);

// matplotlib style 5% margins around the data
const all = correctPts.concat(incorrectPts);
const [x0, x1] = d3.extent(all, d => d[0]);
const [y0, y1] = d3.extent(all, d => d[1]);
const x = d3.scaleLinear()
  .domain([x0 - 0.05 * (x1 - x0), x1 + 0.05 * (x1 - x0)])
  .range([plot.left, plot.right]);
const y = d3.scaleLinear()
  .domain([y0 - 0.05 * (y1 - y0), y1 + 0.05 * (y1 - y0)])
  .range([plot.bottom, plot.top]);

// points: correct first, incorrect drawn on top
const g = svg.append('g');
g.append('g').selectAll('circle')
  .data(correctPts)
  .join('circle')
  .attr('cx', d => x(d[0]))
  .attr('cy', d => y(d[1]))
  .attr('r', markR)
  .attr('fill', 'none')
  .attr('stroke', red)
  .attr('stroke-width', markW);

g.append('g').selectAll('circle')
  .data(incorrectPts)
  .join('circle')
  .attr('cx', d => x(d[0]))
  .attr('cy', d => y(d[1]))
  .attr('r', markR)
  .attr('fill', 'none')
  .attr('stroke', blue)
  .attr('stroke-width', markW);

// axes
const xAxis = svg.append('g')
  .attr('transform', `translate(0,${plot.bottom})`)
  .call(d3.axisBottom(x).tickValues(xTicks).tickFormat(d3.format('.1f'))
    .tickSize(tickLen).tickPadding(16.8));
const yAxis = svg.append('g')
  .attr('transform', `translate(${plot.left},0)`)
  .call(d3.axisLeft(y).tickValues(yTicks).tickFormat(d3.format('d'))
    .tickSize(tickLen).tickPadding(14.6));

[xAxis, yAxis].forEach(a => {
  a.select('.domain').remove();
  a.selectAll('line').attr('stroke', '#000').attr('stroke-width', lw);
  a.selectAll('text').attr('font-size', fs).attr('font-family', '"DejaVu Sans"').attr('fill', '#000');
});
yAxis.selectAll('text').attr('dy', '0.37em');

// frame
svg.append('rect')
  .attr('x', plot.left).attr('y', plot.top)
  .attr('width', plot.right - plot.left).attr('height', plot.bottom - plot.top)
  .attr('fill', 'none').attr('stroke', '#000').attr('stroke-width', lw);

// axis labels
svg.append('text')
  .attr('x', (plot.left + plot.right) / 2).attr('y', 1263)
  .attr('text-anchor', 'middle').attr('font-size', fs)
  .text('Classification Error [log(1 / 1-p)]');
svg.append('text')
  .attr('transform', `translate(60.6,${(plot.top + plot.bottom) / 2}) rotate(-90)`)
  .attr('text-anchor', 'middle').attr('font-size', fs)
  .text('Predictive Uncertainity');

// legend
const legend = svg.append('g');
legend.append('rect')
  .attr('x', 1097).attr('y', 53.1).attr('width', 512).attr('height', 135)
  .attr('rx', 8).attr('ry', 8)
  .attr('fill', 'white').attr('fill-opacity', 0.8)
  .attr('stroke', '#cccccc').attr('stroke-opacity', 0.8).attr('stroke-width', lw);
const rows = legend.selectAll('g.row')
  .data(seriesNames.map((n, i) => ({ name: n, color: i === 0 ? red : blue, i })))
  .join('g')
  .attr('transform', d => `translate(0,${91 + d.i * 62.3})`);
rows.append('circle')
  .attr('cx', 1155.4).attr('cy', 0).attr('r', markR)
  .attr('fill', 'none').attr('stroke', d => d.color).attr('stroke-width', markW);
rows.append('text')
  .attr('x', 1230.3).attr('y', 10.8)
  .attr('font-size', fs)
  .text(d => d.name);
</script>
</body>
</html>
